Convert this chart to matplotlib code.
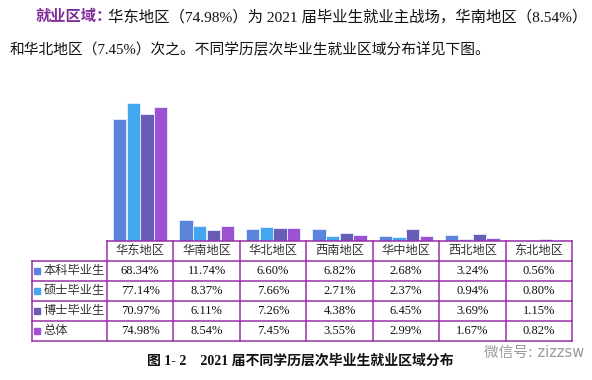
import matplotlib.pyplot as plt
import numpy as np

plt.rcParams['font.family'] = ['Liberation Serif', 'Noto Sans CJK SC', 'DejaVu Sans']

# data
regions = ['华东地区', '华南地区', '华北地区', '西南地区', '华中地区', '西北地区', '东北地区']
series = ['本科毕业生', '硕士毕业生', '博士毕业生', '总体']
benke = [68.34, 11.74, 6.60, 6.82, 2.68, 3.24, 0.56]
shuoshi = [77.14, 8.37, 7.66, 2.71, 2.37, 0.94, 0.80]
boshi = [70.97, 6.11, 7.26, 4.38, 6.45, 3.69, 1.15]
zongti = [74.98, 8.54, 7.45, 3.55, 2.99, 1.67, 0.82]
colors = ['#5B84DD', '#43A6EE', '#675DB7', '#9C52D2']

W, H = 592, 380
fig = plt.figure(figsize=(W / 100, H / 100), dpi=100)

def box(left, top, right, bottom):
    return [left / W, 1 - bottom / H, (right - left) / W, (bottom - top) / H]

# paragraph above the chart
fig.text(36 / W, 1 - 17 / H, '就业区域：', color='#7E2C97', weight='bold',
         fontsize=11, va='center')
fig.text(108 / W, 1 - 17 / H, '华东地区（74.98%）为 2021 届毕业生就业主战场，华南地区（8.54%）',
         fontsize=11.1, va='center', color='#111111')
fig.text(10 / W, 1 - 50 / H, '和华北地区（7.45%）次之。不同学历层次毕业生就业区域分布详见下图。',
         fontsize=10.6, va='center', color='#111111')

# bars
ax = fig.add_axes(box(107, 98.2, 572, 241))
data = [benke, shuoshi, boshi, zongti]
x = np.arange(len(regions)) + 0.5
for k, vals in enumerate(data):
    ax.bar(x + (k - 1.5) * 0.206, vals, width=0.2, color=colors[k],
           edgecolor='#E8F0FF', linewidth=0.6)
ax.set_xlim(0, 7)
ax.set_ylim(0, 80)
ax.axis('off')

# data table
tab = fig.add_axes(box(32, 241, 572, 341))
lw_col = 75 / 66.43
tab.set_xlim(-lw_col, 7)
tab.set_ylim(5, 0)
tab.axis('off')
line_c = '#982FA6'
tab.plot([0, 7], [0, 0], color=line_c, lw=1.1, clip_on=False)
for r in range(1, 6):
    tab.plot([-lw_col, 7], [r, r], color=line_c, lw=1.1, clip_on=False)
tab.plot([-lw_col, -lw_col], [1, 5], color=line_c, lw=1.1, clip_on=False)
for c in range(8):
    tab.plot([c, c], [0, 5], color=line_c, lw=1.1, clip_on=False)

for i, name in enumerate(regions):
    tab.text(i + 0.5, 0.5, name, ha='center', va='center', fontsize=8.8, color='#333333')
for r, vals in enumerate(data):
    tab.plot(-lw_col + 0.075, r + 1.5, marker='s', ms=4, color=colors[r], clip_on=False)
    tab.text(-lw_col + 0.17, r + 1.5, series[r], ha='left', va='center',
             fontsize=8.8, color='#333333')
    for i, v in enumerate(vals):
        tab.text(i + 0.5, r + 1.5, f'{v:.2f}%', ha='center', va='center',
                 fontsize=9, color='#111111')

# caption and watermark
fig.text(300 / W, 1 - 361 / H, '图 1- 2    2021 届不同学历层次毕业生就业区域分布',
         ha='center', va='center', fontsize=10, weight='bold', color='#111111')
fig.text(484 / W, 1 - 352 / H, '微信号: zizzsw', ha='left', va='center',
         fontsize=10.5, color='#9A9A9A', family=['DejaVu Sans', 'Noto Sans CJK SC'])

fig.savefig('out.png', dpi=100)
